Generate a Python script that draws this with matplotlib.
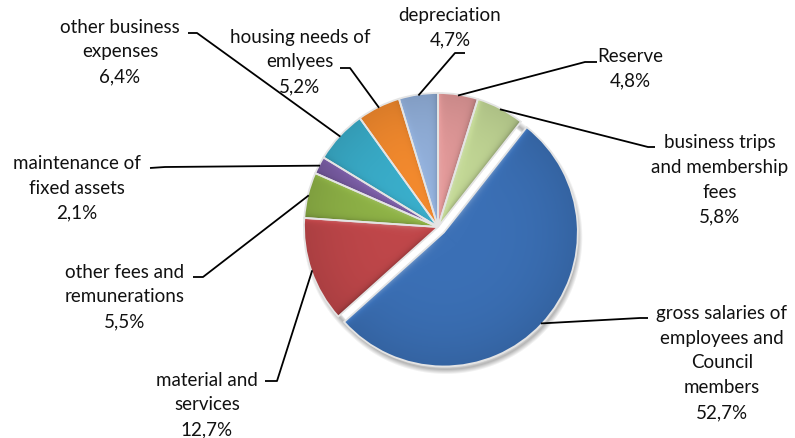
import matplotlib

matplotlib.use("Agg")
import matplotlib.pyplot as plt
import matplotlib.patches as mpatches
import numpy as np
from matplotlib.colors import to_rgb

# data, in Excel's series order (first slice = gross salaries)
labels = [
    "gross salaries of\nemployees and\nCouncil\nmembers",
    "material and\nservices",
    "other fees and\nremunerations",
    "maintenance of\nfixed assets",
    "other business\nexpenses",
    "housing needs of\nemlyees",
    "depreciation",
    "Reserve",
    "business trips\nand membership\nfees",
]
shares = [52.7, 12.7, 5.5, 2.1, 6.4, 5.2, 4.7, 4.8, 5.8]
pct_text = ["52,7%", "12,7%", "5,5%", "2,1%", "6,4%", "5,2%", "4,7%", "4,8%", "5,8%"]
colors = ["#3b70b6", "#c0474a", "#8fb347", "#7b5ea6", "#3aaecb",
          "#f58b2e", "#93b1dc", "#e39a9a", "#c3d896"]

# layout (pixel coords, y from top)
W, H = 795, 438
CX, CY, R = 438, 227, 134
EXPLODE = 8.0  # pie() takes explode in data units, here pixels
# text block centre, leader start, leader elbow
label_pos = [
    ((722, 363), (648, 318), (640, 318)),
    ((207, 405), (265, 381), (277, 381)),
    ((125, 297), (193, 277), (203, 277)),
    ((77, 188), (150, 168), (165, 167)),
    ((120, 52), (188, 33), (197, 33)),
    ((300, 62), (340, 68), (350, 68)),
    ((450, 28), (465, 53), (455, 53)),
    ((630, 69), (597, 62), (585, 62)),
    ((720, 180), (655, 147), (648, 147)),
]

plt.rcParams["font.family"] = ["Lato", "DejaVu Sans"]

fig = plt.figure(figsize=(W / 100, H / 100), dpi=100)
ax = fig.add_axes([0, 0, 1, 1])

tot = sum(shares)
start = 90 - 360 * (shares[-1] + shares[-2]) / tot
explode = [EXPLODE] + [0] * (len(shares) - 1)

wedges, _ = ax.pie(shares, colors=colors, startangle=start, counterclock=False,
                   center=(CX, H - CY), radius=R, explode=explode,
                   wedgeprops=dict(linewidth=0))

# soft drop shadow just outside the pie rim
yy, xx = np.mgrid[0:H, 0:W]
X = xx + 0.5
Y = H - yy - 0.5
bc = wedges[0].center
sd = np.hypot(X - (CX + 2), Y - (H - CY - 5))
sd2 = np.hypot(X - (bc[0] + 2), Y - (bc[1] - 5))
sdist = np.minimum(sd, sd2)
sa = 0.45 * np.clip((R + 3 - sdist) / 8, 0, 1) * np.clip((sdist - (R - 6)) / 4, 0, 1)
shadow = np.zeros((H, W, 4))
shadow[..., 3] = sa
ax.imshow(shadow, extent=(0, W, 0, H), origin="upper", zorder=0.5,
          interpolation="bilinear")


def edge_term(d, w, valid=True):
    d = np.where((d < 0) | ~valid, 1e3, d)
    return np.exp(-d / w)


# bevel shading per wedge
light = np.array([-0.55, 0.83])
for w, col in zip(wedges, colors):
    cx, cy = w.center
    t1, t2 = np.radians(w.theta1), np.radians(w.theta2)
    dx, dy = X - cx, Y - cy
    rr = np.hypot(dx, dy) + 1e-9
    # rim
    d_rim = w.r - rr
    n_rim = (dx / rr) * light[0] + (dy / rr) * light[1]
    s = n_rim * edge_term(d_rim, 5.0)
    # radial edges (only along the ray, not its extension)
    d1 = -dx * np.sin(t1) + dy * np.cos(t1)
    p1 = dx * np.cos(t1) + dy * np.sin(t1) > 0
    n1 = np.sin(t1) * light[0] - np.cos(t1) * light[1]
    d2 = dx * np.sin(t2) - dy * np.cos(t2)
    p2 = dx * np.cos(t2) + dy * np.sin(t2) > 0
    n2 = -np.sin(t2) * light[0] + np.cos(t2) * light[1]
    fade = np.clip(rr / 25, 0, 1)
    s = s + 0.7 * fade * (n1 * edge_term(d1, 2.5, p1) + n2 * edge_term(d2, 2.5, p2))
    # general darkening toward the rim
    s = s - 0.25 * (rr / w.r) ** 3
    s = np.clip(s, -1, 1)
    base = np.array(to_rgb(col))
    pos = np.clip(s, 0, None)[..., None]
    neg = np.clip(-s, 0, None)[..., None]
    img = base + pos * (1 - base) * 0.55 - neg * base * 0.45
    im = ax.imshow(np.clip(img, 0, 1), extent=(0, W, 0, H), origin="upper",
                   zorder=2, interpolation="bilinear")
    im.set_clip_path(w)
    ax.add_patch(mpatches.Wedge((cx, cy), w.r, w.theta1, w.theta2, fill=False,
                                ec="#e4e4e4", lw=1.3, zorder=3))

# labels and leader lines
for w, lab, pct, (tp, p0, p1) in zip(wedges, labels, pct_text, label_pos):
    mid = np.radians((w.theta1 + w.theta2) / 2)
    cx, cy = w.center
    ex, ey = cx + (w.r - 1) * np.cos(mid), cy + (w.r - 1) * np.sin(mid)
    ax.plot([p0[0], p1[0], ex], [H - p0[1], H - p1[1], ey], color="black",
            lw=1.3, zorder=4, solid_capstyle="butt")
    ax.text(tp[0], H - tp[1], lab + "\n" + pct, ha="center", va="center",
            multialignment="center", fontsize=13.5, linespacing=1.55,
            color="#111111", zorder=5)

ax.set_xlim(0, W)
ax.set_ylim(0, H)
ax.set_aspect("auto")
ax.axis("off")

fig.savefig("out.png", dpi=100, facecolor="white")
